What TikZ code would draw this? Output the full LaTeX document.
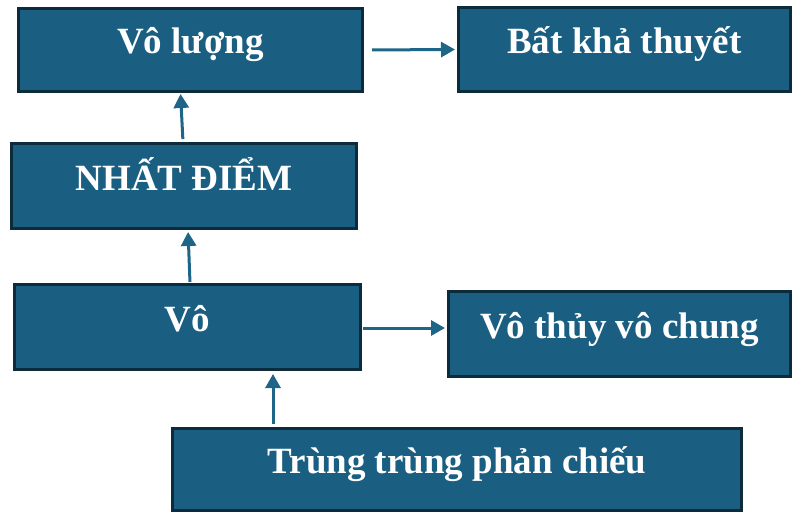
\documentclass[tikz,border=0pt]{standalone}
\usepackage{fontspec}
\setmainfont{Liberation Serif}
\usetikzlibrary{arrows.meta}
\definecolor{boxfill}{HTML}{1A5F82}
\definecolor{boxline}{HTML}{0C2B3B}
\definecolor{arrcol}{HTML}{1E6587}
\tikzset{
  box/.style={draw=boxline, line width=3pt, fill=boxfill, text=white,
    font=\fontsize{37}{40}\selectfont\bfseries, inner sep=0pt,
    text height=30pt, text depth=22pt},
  arr/.style={draw=arrcol, line width=3pt, -{Triangle[length=14pt,width=15pt]}}
}
\begin{document}
\begin{tikzpicture}[x=1pt,y=-1pt]
\useasboundingbox (0,0) rectangle (794,513);
\node[box, minimum width=344pt, minimum height=83pt] (vl) at (190.5,50) {Vô lượng};
\node[box, minimum width=332pt, minimum height=84pt] (bkt) at (624.5,49.5) {Bất khả thuyết};
\node[box, minimum width=345pt, minimum height=85pt] (nd) at (184,186) {NHẤT ĐIỂM};
\node[box, minimum width=346pt, minimum height=85pt] (vo) at (187.5,327) {Vô};
\node[box, minimum width=342pt, minimum height=85pt] (vtvc) at (619.5,334) {Vô thủy vô chung};
\node[box, minimum width=569pt, minimum height=82pt] (ttpc) at (457,469.5) {Trùng trùng phản chiếu};
\draw[arr, shorten <=8pt, shorten >=2pt] (vl.east) -- (bkt.west);
\draw[arr, shorten <=3pt, shorten >=1pt] ([xshift=-1pt]nd.north) -- ([xshift=-10pt]vl.south);
\draw[arr, shorten <=1pt, shorten >=2pt] ([xshift=2.5pt]vo.north) -- ([xshift=4pt]nd.south);
\draw[arr, shorten <=1pt, shorten >=2pt] ([yshift=-1pt]vo.east) -- ([yshift=6pt]vtvc.west);
\draw[arr, shorten <=3pt, shorten >=3pt] ([xshift=-184pt]ttpc.north) -- ([xshift=85.5pt]vo.south);
\end{tikzpicture}
\end{document}
